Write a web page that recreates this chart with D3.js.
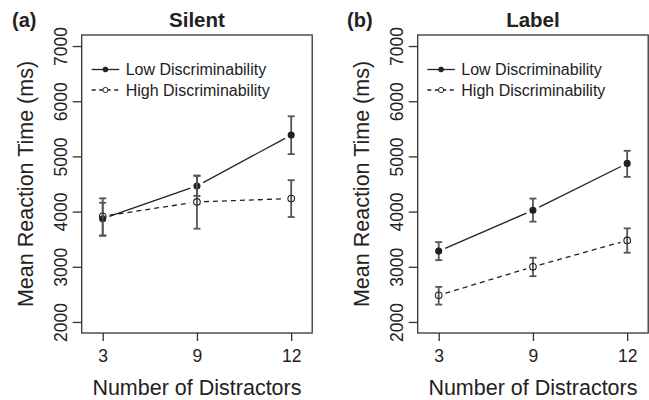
<!DOCTYPE html>
<html>
<head>
<meta charset="utf-8">
<script src="https://cdn.jsdelivr.net/npm/d3@7"></script>
<style>
  body { margin: 0; background: #fff; }
  svg { display: block; }
  text { font-family: "Liberation Sans", Arial, Helvetica, sans-serif; fill: #222; }
</style>
</head>
<body>
<div id="body"></div>
<script>
// categories and tick labels
var distractors = ['3', '9', '12'];
var yTicks = [2000, 3000, 4000, 5000, 6000, 7000];
var seriesNames = ['Low Discriminability', 'High Discriminability'];

// panel (a) Silent
var silentLow = [3870, 4465, 5387];
var silentLowLo = [3570, 4284, 5042];
var silentLowHi = [4160, 4647, 5727];
var silentHigh = [3915, 4175, 4236];
var silentHighLo = [3560, 3690, 3902];
var silentHighHi = [4240, 4655, 4569];

// panel (b) Label
var labelLow = [3284, 4024, 4873];
var labelLowLo = [3120, 3818, 4629];
var labelLowHi = [3447, 4236, 5102];
var labelHigh = [2484, 3000, 3478];
var labelHighLo = [2315, 2829, 3255];
var labelHighHi = [2636, 3164, 3696];

var W = 649, H = 400;
var svg = d3.select('#body').append('svg').attr('width', W).attr('height', H);

var ink = '#222';
var barInk = '#555';

function panel(opts) {
  var left = opts.left, right = opts.left + 230.5, top = 35, bottom = 333;
  var g = svg.append('g');

  var x = d3.scalePoint().domain(distractors).range([left, right]).padding(0.223);
  var y = d3.scaleLinear().domain([1800, 7200]).range([bottom, top]);

  // box
  g.append('rect')
    .attr('x', left).attr('y', top)
    .attr('width', right - left).attr('height', bottom - top)
    .attr('fill', 'none').attr('stroke', '#333').attr('stroke-width', 1.3);

  // x axis
  var xa = g.append('g').attr('transform', 'translate(0,' + bottom + ')')
    .call(d3.axisBottom(x).tickSize(8).tickPadding(9));
  xa.select('.domain').remove();
  xa.selectAll('line').attr('stroke', '#333').attr('stroke-width', 1.3);
  xa.selectAll('text').attr('font-size', '17.5px').attr('fill', ink)
    .style('font-family', '"Liberation Sans", Arial, sans-serif');

  // y axis, labels rotated like R
  var ya = g.append('g').attr('transform', 'translate(' + left + ',0)')
    .call(d3.axisLeft(y).tickValues(yTicks).tickSize(9).tickFormat(d3.format('d')));
  ya.select('.domain').remove();
  ya.selectAll('line').attr('stroke', '#333').attr('stroke-width', 1.3);
  ya.selectAll('text')
    .attr('font-size', '17.5px').attr('fill', ink)
    .style('font-family', '"Liberation Sans", Arial, sans-serif')
    .attr('text-anchor', 'middle')
    .attr('x', 0).attr('dy', 0)
    .attr('transform', 'translate(-14.5,0) rotate(-90)');

  // titles
  g.append('text').attr('x', (left + right) / 2).attr('y', 27)
    .attr('text-anchor', 'middle').attr('font-size', '20.5px').attr('font-weight', 'bold')
    .text(opts.title);
  g.append('text').attr('x', opts.tagX).attr('y', 27)
    .attr('font-size', '20px').attr('font-weight', 'bold')
    .text(opts.tag);
  g.append('text').attr('x', (left + right) / 2).attr('y', 395)
    .attr('text-anchor', 'middle').attr('font-size', '21.5px')
    .text('Number of Distractors');
  g.append('text')
    .attr('transform', 'translate(' + (left - 48.5) + ',' + ((top + bottom) / 2) + ') rotate(-90)')
    .attr('text-anchor', 'middle').attr('font-size', '21.5px')
    .text('Mean Reaction Time (ms)');

  // series
  opts.series.forEach(function(s) {
    var pts = distractors.map(function(c, i) {
      return { px: x(c), py: y(s.mean[i]), lo: s.lo[i], hi: s.hi[i] };
    });
    // type "b" style lines with gaps around points
    var gap = 7;
    var segs = d3.pairs(pts).map(function(p) {
      var dx = p[1].px - p[0].px, dy = p[1].py - p[0].py;
      var len = Math.sqrt(dx * dx + dy * dy);
      var ux = dx / len, uy = dy / len;
      return [p[0].px + ux * gap, p[0].py + uy * gap, p[1].px - ux * gap, p[1].py - uy * gap];
    });
    g.selectAll(null).data(segs).enter().append('line')
      .attr('x1', function(d) { return d[0]; }).attr('y1', function(d) { return d[1]; })
      .attr('x2', function(d) { return d[2]; }).attr('y2', function(d) { return d[3]; })
      .attr('stroke', ink).attr('stroke-width', 1.3)
      .attr('stroke-dasharray', s.dashed ? '5,4' : null);

    // error bars
    var eb = g.selectAll(null).data(pts).enter().append('g')
      .attr('stroke', barInk).attr('stroke-width', 1.8);
    eb.append('line')
      .attr('x1', function(d) { return d.px; }).attr('x2', function(d) { return d.px; })
      .attr('y1', function(d) { return y(d.lo); }).attr('y2', function(d) { return y(d.hi); });
    eb.append('line')
      .attr('x1', function(d) { return d.px - 3.5; }).attr('x2', function(d) { return d.px + 3.5; })
      .attr('y1', function(d) { return y(d.lo); }).attr('y2', function(d) { return y(d.lo); });
    eb.append('line')
      .attr('x1', function(d) { return d.px - 3.5; }).attr('x2', function(d) { return d.px + 3.5; })
      .attr('y1', function(d) { return y(d.hi); }).attr('y2', function(d) { return y(d.hi); });

    // points
    g.selectAll(null).data(pts).enter().append('circle')
      .attr('cx', function(d) { return d.px; }).attr('cy', function(d) { return d.py; })
      .attr('r', s.dashed ? 3.3 : 3)
      .attr('fill', s.dashed ? 'none' : ink)
      .attr('stroke', ink).attr('stroke-width', 1.1);
  });

  // legend
  var lx = left + opts.legendDx;
  var leg = g.selectAll('.leg').data(opts.series).enter().append('g')
    .attr('transform', function(d, i) { return 'translate(' + lx + ',' + (69.5 + i * 20.5) + ')'; });
  leg.append('line').attr('x1', 0).attr('x2', 27.5).attr('y1', 0).attr('y2', 0)
    .attr('stroke', ink).attr('stroke-width', 1.3)
    .attr('stroke-dasharray', function(d) { return d.dashed ? '4,3.5' : null; });
  leg.append('circle').attr('cx', 13.75).attr('cy', 0)
    .attr('r', function(d) { return d.dashed ? 2.6 : 2.4; })
    .attr('fill', function(d) { return d.dashed ? '#fff' : ink; })
    .attr('stroke', ink).attr('stroke-width', 1);
  leg.append('text').attr('x', 34).attr('y', 5.5).attr('font-size', '16px')
    .text(function(d) { return d.name; });
}

panel({
  left: 81.7, title: 'Silent', tag: '(a)', tagX: 12, legendDx: 10,
  series: [
    { name: seriesNames[0], mean: silentLow, lo: silentLowLo, hi: silentLowHi, dashed: false },
    { name: seriesNames[1], mean: silentHigh, lo: silentHighLo, hi: silentHighHi, dashed: true }
  ]
});
panel({
  left: 417.7, title: 'Label', tag: '(b)', tagX: 347, legendDx: 9.6,
  series: [
    { name: seriesNames[0], mean: labelLow, lo: labelLowLo, hi: labelLowHi, dashed: false },
    { name: seriesNames[1], mean: labelHigh, lo: labelHighLo, hi: labelHighHi, dashed: true }
  ]
});
</script>
</body>
</html>
